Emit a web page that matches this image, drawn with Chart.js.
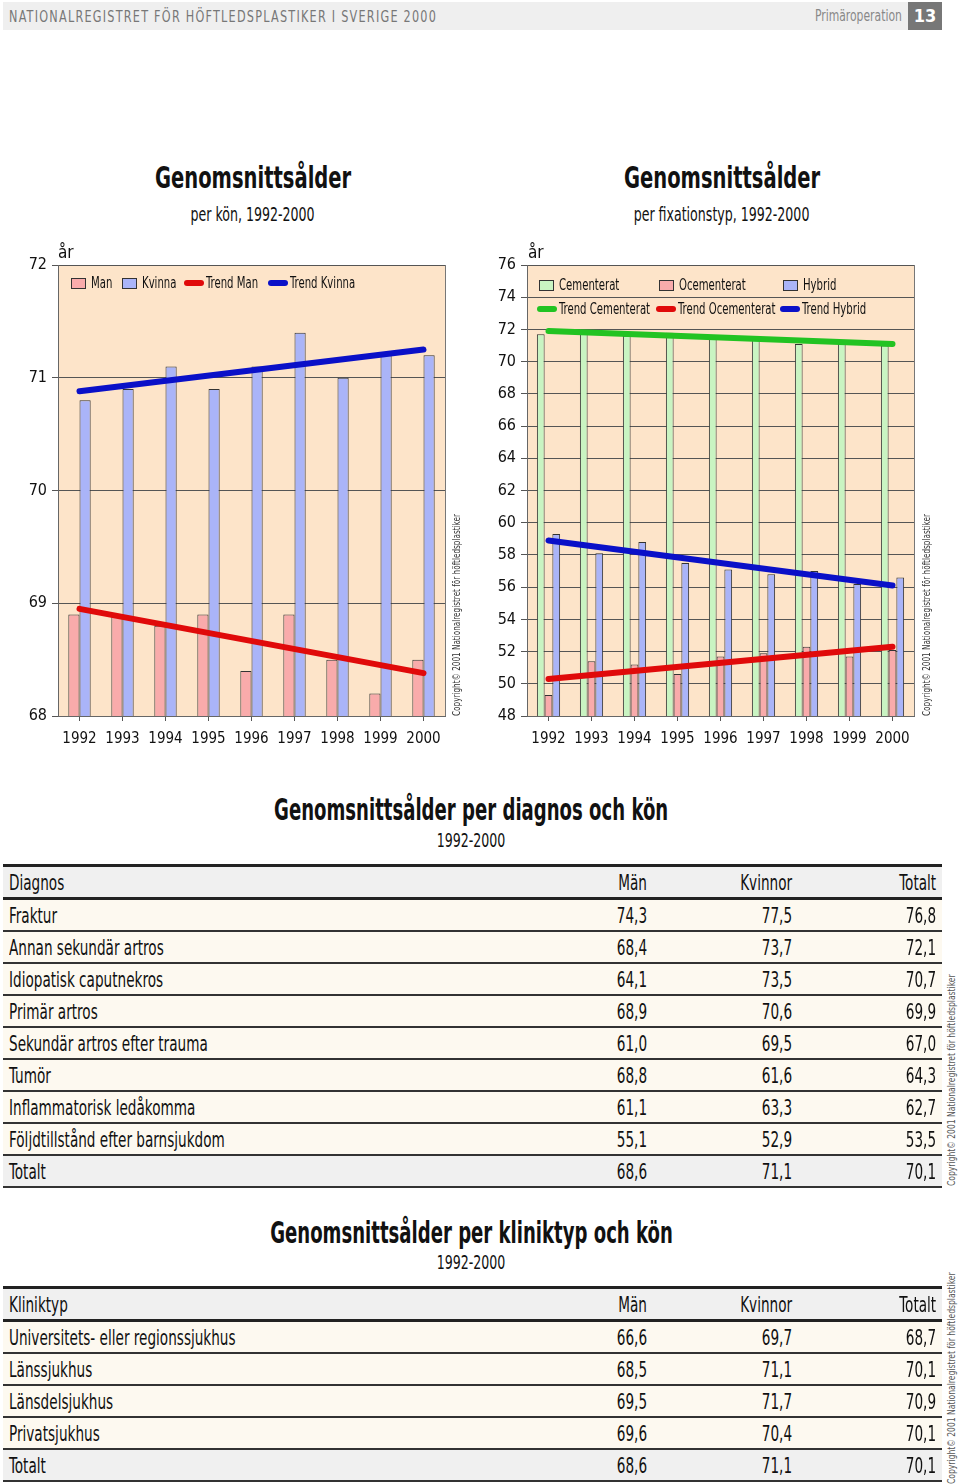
<!DOCTYPE html>
<html lang="sv">
<head>
<meta charset="utf-8">
<title>Genomsnittsålder</title>
<script src="https://cdn.jsdelivr.net/npm/chart.js@4.4.0/dist/chart.umd.min.js"></script>
<style>
  body { margin: 0; background: #fff; font-family: "Liberation Sans Narrow", "DejaVu Sans Condensed", "Arial Narrow", sans-serif; color: #111; }
  #page { position: relative; width: 960px; height: 1484px; overflow: hidden; }
  .abs { position: absolute; }
  .sq { display: inline-block; white-space: nowrap; transform: scaleX(0.72); transform-origin: left center; }
  .sqc { display: inline-block; white-space: nowrap; transform: scaleX(0.70); transform-origin: center center; }
  .topbar { left: 3px; top: 2px; width: 939px; height: 28px; background: #efefef; }
  .topbar .left { position: absolute; left: 6px; top: 5px; font-size: 16px; letter-spacing: 1.6px; color: #777; transform: scaleX(0.78); transform-origin: left center; white-space: nowrap; }
  .topbar .right { position: absolute; right: 40px; top: 4px; font-size: 16px; color: #888; transform: scaleX(0.75); transform-origin: right center; }
  .pagenr { position: absolute; right: 0; top: 0; width: 34px; height: 28px; background: #777; color: #fff; font-weight: bold; font-size: 18px; text-align: center; line-height: 28px; }
  .title { font-weight: bold; font-size: 31px; text-align: center; width: 470px; }
  .sub { font-size: 20px; text-align: center; width: 470px; }
  .chartbox { position: absolute; top: 240px; height: 510px; }
  .unit { position: absolute; top: 2px; font-size: 17px; }
  .copy { position: absolute; font-size: 10.5px; color: #333; transform: rotate(-90deg) scaleX(0.77); transform-origin: left top; white-space: nowrap; }
  .legend { position: absolute; left: 0; top: 0; font-size: 15px; }
  .li { position: absolute; display: flex; align-items: center; white-space: nowrap; }
  .li .sq { transform: scaleX(0.75); }
  .sw { width: 13px; height: 9px; border: 1px solid #333; margin-right: 5px; flex: none; }
  .ln { width: 20px; height: 6px; border-radius: 3px; margin-right: 2px; flex: none; }
  table { position: absolute; left: 3px; width: 939px; border-collapse: collapse; font-size: 21px; }
  table td { height: 28px; padding: 2px 6px 0 6px; border-bottom: 2px solid #333; background: #fdf9f0; }
  table tr.head td { background: #f0f0f0; border-top: 3px solid #222; border-bottom: 3px solid #222; }
  table tr.tot td { background: #f0f0f0; }
  table td.num { text-align: right; }
  table td.num .sq { transform-origin: right center; }
  .ttitle { font-weight: bold; font-size: 30px; text-align: center; width: 942px; left: 0; }
  .ttitle .sqc { transform: scaleX(0.67); }
  .tsub { font-size: 20px; text-align: center; width: 942px; left: 0; }
</style>
</head>
<body>
<div id="page">
  <div class="abs topbar">
    <div class="left">NATIONALREGISTRET FÖR HÖFTLEDSPLASTIKER I SVERIGE 2000</div>
    <div class="right">Primäroperation</div>
    <div class="pagenr">13</div>
  </div>

  <div class="abs title" style="left:18px; top:159px;"><span class="sqc">Genomsnittsålder</span></div>
  <div class="abs sub" style="left:18px; top:202px;"><span class="sqc">per kön, 1992-2000</span></div>
  <div class="abs title" style="left:487px; top:159px;"><span class="sqc">Genomsnittsålder</span></div>
  <div class="abs sub" style="left:487px; top:202px;"><span class="sqc">per fixationstyp, 1992-2000</span></div>

  <div class="chartbox" style="left:0; width:470px;">
    <canvas id="sexChart"></canvas>
    <div class="unit" style="left:58px;">år</div>
    <div class="legend" id="sexLegend"></div>
    <div class="copy" style="left:450px; top:476px;">Copyright© 2001 Nationalregistret för höftledsplastiker</div>
  </div>

  <div class="chartbox" style="left:470px; width:490px;">
    <canvas id="fixChart"></canvas>
    <div class="unit" style="left:58px;">år</div>
    <div class="legend" id="fixLegend"></div>
    <div class="copy" style="left:450px; top:476px;">Copyright© 2001 Nationalregistret för höftledsplastiker</div>
  </div>

  <div class="abs ttitle" style="top:792px;"><span class="sqc">Genomsnittsålder per diagnos och kön</span></div>
  <div class="abs tsub" style="top:828px;"><span class="sqc">1992-2000</span></div>
  <table id="diagTable" style="top:864px;"></table>
  <div class="copy" style="left:945px; top:1186px; font-size:11px; color:#555;">Copyright© 2001 Nationalregistret för höftledsplastiker</div>

  <div class="abs ttitle" style="top:1215px;"><span class="sqc">Genomsnittsålder per kliniktyp och kön</span></div>
  <div class="abs tsub" style="top:1250px;"><span class="sqc">1992-2000</span></div>
  <table id="clinicTable" style="top:1286px;"></table>
  <div class="copy" style="left:945px; top:1484px; font-size:11px; color:#555;">Copyright© 2001 Nationalregistret för höftledsplastiker</div>
</div>

<script>
// years on the x axis
const years = ['1992', '1993', '1994', '1995', '1996', '1997', '1998', '1999', '2000'];

// per kön
const manAge = [68.9, 68.9, 68.8, 68.9, 68.4, 68.9, 68.5, 68.2, 68.5];
const kvinnaAge = [70.8, 70.9, 71.1, 70.9, 71.1, 71.4, 71.0, 71.2, 71.2];
const trendMan = [68.95, null, null, null, null, null, null, null, 68.38];
const trendKvinna = [70.88, null, null, null, null, null, null, null, 71.25];
const sexTicks = [68, 69, 70, 71, 72];

// per fixationstyp
const cementerat = [71.7, 71.8, 71.6, 71.8, 71.5, 71.4, 71.1, 71.1, 71.0];
const ocementerat = [49.3, 51.4, 51.2, 50.6, 51.7, 51.9, 52.3, 51.7, 52.1];
const hybrid = [59.3, 58.1, 58.8, 57.5, 57.1, 56.8, 57.0, 56.2, 56.6];
const trendCementerat = [71.9, null, null, null, null, null, null, null, 71.1];
const trendOcementerat = [50.3, null, null, null, null, null, null, null, 52.3];
const trendHybrid = [58.9, null, null, null, null, null, null, null, 56.1];
const fixTicks = [48, 50, 52, 54, 56, 58, 60, 62, 64, 66, 68, 70, 72, 74, 76];

// tables
const diagnoser = ['Fraktur', 'Annan sekundär artros', 'Idiopatisk caputnekros', 'Primär artros',
  'Sekundär artros efter trauma', 'Tumör', 'Inflammatorisk ledåkomma', 'Följdtillstånd efter barnsjukdom', 'Totalt'];
const diagMan = [74.3, 68.4, 64.1, 68.9, 61.0, 68.8, 61.1, 55.1, 68.6];
const diagKvinnor = [77.5, 73.7, 73.5, 70.6, 69.5, 61.6, 63.3, 52.9, 71.1];
const diagTotalt = [76.8, 72.1, 70.7, 69.9, 67.0, 64.3, 62.7, 53.5, 70.1];

const kliniktyper = ['Universitets- eller regionssjukhus', 'Länssjukhus', 'Länsdelsjukhus', 'Privatsjukhus', 'Totalt'];
const klinikMan = [66.6, 68.5, 69.5, 69.6, 68.6];
const klinikKvinnor = [69.7, 71.1, 71.7, 70.4, 71.1];
const klinikTotalt = [68.7, 70.1, 70.9, 70.1, 70.1];

const FONT = '"Liberation Sans Narrow", "DejaVu Sans Condensed", "Arial Narrow", sans-serif';
const PEACH = '#fde4c9';
const PINK = '#f9abab';
const BLUE = '#aab4f8';
const GREEN = '#c9f4c2';
const RED = '#e00a0a';
const DBLUE = '#0a10c8';
const DGREEN = '#22c322';

const plotFrame = {
  id: 'plotFrame',
  beforeDraw(chart) {
    const a = chart.chartArea, c = chart.ctx;
    c.save();
    c.fillStyle = PEACH;
    c.fillRect(a.left, a.top, a.right - a.left, a.bottom - a.top);
    c.restore();
  },
  afterDraw(chart) {
    const a = chart.chartArea, c = chart.ctx;
    c.save();
    c.strokeStyle = '#777';
    c.lineWidth = 1;
    c.beginPath();
    c.moveTo(a.right + 0.5, a.top);
    c.lineTo(a.right + 0.5, a.bottom);
    c.stroke();
    c.restore();
  }
};

function barSet(label, data, color) {
  return { type: 'bar', label, data, backgroundColor: color, borderColor: '#333', borderWidth: 1, order: 2 };
}
function trendSet(label, data, color) {
  return { type: 'line', label, data, borderColor: color, backgroundColor: color, borderWidth: 6,
    borderCapStyle: 'round', pointRadius: 0, spanGaps: true, order: 1 };
}

function makeChart(id, datasets, ticks, yWidth, padRight, catPct) {
  return new Chart(document.getElementById(id).getContext('2d'), {
    type: 'bar',
    data: { labels: years, datasets },
    plugins: [plotFrame],
    options: {
      responsive: true,
      maintainAspectRatio: false,
      animation: false,
      categoryPercentage: catPct,
      barPercentage: 1,
      layout: { padding: { top: 25, right: padRight, bottom: 0, left: 0 } },
      plugins: { legend: { display: false }, tooltip: { enabled: false } },
      scales: {
        x: {
          grid: { display: true, drawOnChartArea: false, offset: false, tickLength: 5, color: '#555' },
          border: { color: '#666' },
          ticks: { color: '#111', font: { family: FONT, size: 15 }, padding: 9, maxRotation: 0, minRotation: 0, autoSkip: false },
          afterFit: s => { s.height = 34; }
        },
        y: {
          min: ticks[0],
          max: ticks[ticks.length - 1],
          afterBuildTicks: s => { s.ticks = ticks.map(v => ({ value: v })); },
          grid: { color: '#555', tickLength: 6 },
          border: { color: '#666' },
          ticks: { color: '#111', font: { family: FONT, size: 16 }, padding: 5 },
          afterFit: s => { s.width = yWidth; }
        }
      }
    }
  });
}

makeChart('sexChart', [
  barSet('Man', manAge, PINK),
  barSet('Kvinna', kvinnaAge, BLUE),
  trendSet('Trend Man', trendMan, RED),
  trendSet('Trend Kvinna', trendKvinna, DBLUE)
], sexTicks, 58, 25, 0.52);

makeChart('fixChart', [
  barSet('Cementerat', cementerat, GREEN),
  barSet('Ocementerat', ocementerat, PINK),
  barSet('Hybrid', hybrid, BLUE),
  trendSet('Trend Cementerat', trendCementerat, DGREEN),
  trendSet('Trend Ocementerat', trendOcementerat, RED),
  trendSet('Trend Hybrid', trendHybrid, DBLUE)
], fixTicks, 57, 46, 0.54);

function legendItem(parent, x, y, label, color, isLine) {
  const d = document.createElement('div');
  d.className = 'li';
  d.style.left = x + 'px';
  d.style.top = y + 'px';
  const m = document.createElement('span');
  m.className = isLine ? 'ln' : 'sw';
  m.style.background = color;
  d.appendChild(m);
  const s = document.createElement('span');
  s.className = 'sq';
  s.textContent = label;
  d.appendChild(s);
  parent.appendChild(d);
}

const sexLeg = document.getElementById('sexLegend');
legendItem(sexLeg, 71, 34, 'Man', PINK, false);
legendItem(sexLeg, 122, 34, 'Kvinna', BLUE, false);
legendItem(sexLeg, 184, 34, 'Trend Man', RED, true);
legendItem(sexLeg, 268, 34, 'Trend Kvinna', DBLUE, true);

const fixLeg = document.getElementById('fixLegend');
legendItem(fixLeg, 69, 36, 'Cementerat', GREEN, false);
legendItem(fixLeg, 189, 36, 'Ocementerat', PINK, false);
legendItem(fixLeg, 313, 36, 'Hybrid', BLUE, false);
legendItem(fixLeg, 67, 60, 'Trend Cementerat', DGREEN, true);
legendItem(fixLeg, 186, 60, 'Trend Ocementerat', RED, true);
legendItem(fixLeg, 310, 60, 'Trend Hybrid', DBLUE, true);

function fmt(v) { return v.toFixed(1).replace('.', ','); }
function sq(t) { return '<span class="sq">' + t + '</span>'; }

function fillTable(id, head, names, a, b, c) {
  const t = document.getElementById(id);
  let html = '<tr class="head"><td>' + sq(head) + '</td><td class="num" style="width:110px">' + sq('Män') + '</td>' +
    '<td class="num" style="width:133px">' + sq('Kvinnor') + '</td><td class="num" style="width:132px">' + sq('Totalt') + '</td></tr>';
  names.forEach((n, i) => {
    const cls = i === names.length - 1 ? ' class="tot"' : '';
    html += '<tr' + cls + '><td>' + sq(n) + '</td><td class="num">' + sq(fmt(a[i])) + '</td><td class="num">' +
      sq(fmt(b[i])) + '</td><td class="num">' + sq(fmt(c[i])) + '</td></tr>';
  });
  t.innerHTML = html;
}

fillTable('diagTable', 'Diagnos', diagnoser, diagMan, diagKvinnor, diagTotalt);
fillTable('clinicTable', 'Kliniktyp', kliniktyper, klinikMan, klinikKvinnor, klinikTotalt);
</script>
</body>
</html>
